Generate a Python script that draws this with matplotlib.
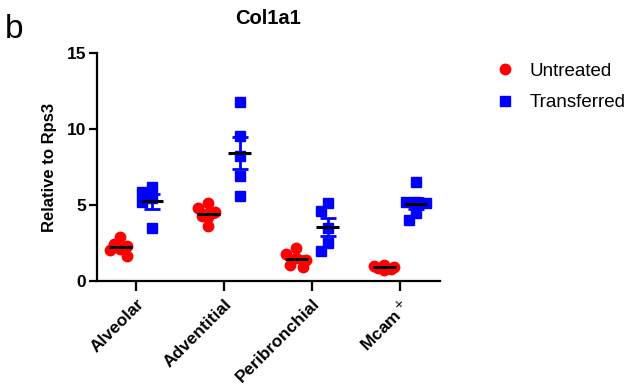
import numpy as np
import matplotlib.pyplot as plt

plt.rcParams['font.family'] = ['Liberation Sans', 'DejaVu Sans']

# ***** Data ***** #
groups = ['Alveolar', 'Adventitial', 'Peribronchial', 'Mcam$^+$']
untreated = [
    [2.87, 2.45, 2.3, 2.1, 2.05, 1.65],
    [5.11, 4.78, 4.56, 4.3, 4.23, 3.62],
    [2.15, 1.76, 1.49, 1.38, 1.05, 0.94],
    [1.05, 0.98, 0.9, 0.85, 0.8, 0.75],
]
transferred = [
    [6.2, 5.88, 5.44, 5.22, 3.47],
    [11.76, 9.53, 8.21, 6.89, 5.62],
    [5.15, 4.62, 3.47, 2.48, 1.99],
    [6.53, 5.22, 5.18, 5.11, 4.45, 4.01],
]
yticks = [0, 5, 10, 15]

RED = '#ff0000'
BLUE = '#0000ff'

fig = plt.figure(figsize=(6.28, 3.85), dpi=100)
ax = fig.add_axes([97/628, 1 - 281/385, (440-97)/628, (281-53)/385])
ax.set_xlim(-0.445, 3.455)
ax.set_ylim(0, 15)

# pixel scale for the swarm layout
px_x = 88.0
px_y = 15.17


def swarm(vals, diam=9.0, cands=(0.0, -6.5, 6.5, -10.0, 10.0)):
    # narrow beeswarm: take the first slot that is free, else the least crowded
    order = np.argsort(vals)[::-1]
    placed = []
    offs = np.zeros(len(vals))
    for i in order:
        yv = vals[i] * px_y
        best, best_d = 0.0, -1.0
        for c in cands:
            d = min([np.hypot(px - c, py - yv) for (px, py) in placed] or [99.0])
            if d >= diam:
                best = c
                break
            if d > best_d:
                best, best_d = c, d
        placed.append((best, yv))
        offs[i] = best / px_x
    return offs


def draw_group(x0, vals, color, marker, ms):
    vals = np.array(vals)
    xs = x0 + swarm(vals)
    ax.plot(xs, vals, linestyle='', marker=marker, color=color, ms=ms,
            mec=color, zorder=3, clip_on=False)
    m = vals.mean()
    sem = vals.std(ddof=1) / np.sqrt(len(vals))
    ax.errorbar([x0], [m], yerr=[sem], color=color, capsize=6, capthick=2,
                elinewidth=2, zorder=4)
    ax.plot([x0 - 0.13, x0 + 0.13], [m, m], color='black', lw=2.2,
            zorder=5, solid_capstyle='butt')


off = 0.18
for i in range(len(groups)):
    draw_group(i - off, untreated[i], RED, 'o', 7.5)
    draw_group(i + off, transferred[i], BLUE, 's', 7.5)

ax.plot([], [], 'o', color=RED, ms=7.5, label='Untreated')
ax.plot([], [], 's', color=BLUE, ms=7, label='Transferred')

for s in ['top', 'right']:
    ax.spines[s].set_visible(False)
for s in ['left', 'bottom']:
    ax.spines[s].set_linewidth(1.6)

ax.set_yticks(yticks)
ax.set_yticklabels([str(t) for t in yticks], fontsize=12.5, fontweight='bold')
ax.set_xticks(range(len(groups)))
ax.set_xticklabels(groups, rotation=45, ha='right', rotation_mode='anchor',
                   fontsize=12.5, fontweight='bold')
ax.tick_params(axis='y', length=6, width=1.6, pad=2)
ax.tick_params(axis='x', length=7, width=1.6, pad=4)

ax.set_ylabel('Relative to Rps3', fontsize=12, fontweight='bold', labelpad=7)
ax.set_title('Col1a1', fontsize=14.5, fontweight='bold', pad=21)

fig.text(5/628, 1 - 38/385, 'b', fontsize=24)

fig.legend(loc='upper left', bbox_to_anchor=(474/628, 1 - 46/385),
           frameon=False, fontsize=13.5, handletextpad=0.55, labelspacing=0.75,
           handlelength=1.5)

fig.savefig('out.png', dpi=100)
